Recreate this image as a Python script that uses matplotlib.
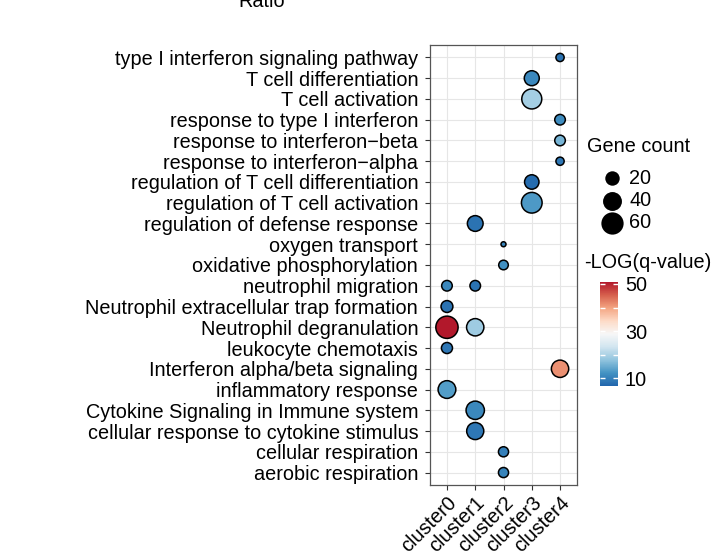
"""
Dot plot of enriched terms per cluster (gene count as size, -log q as colour).
Output: out.png
"""

import numpy as np
import matplotlib
matplotlib.use("Agg")
import matplotlib.pyplot as plt
from matplotlib.colors import LinearSegmentedColormap, Normalize
from matplotlib.transforms import ScaledTranslation

plt.rcParams["font.family"] = ["Liberation Sans", "DejaVu Sans"]

# ---------------------------------------------------------------------------
# Data
# ---------------------------------------------------------------------------

terms = [
    "type I interferon signaling pathway",
    "T cell differentiation",
    "T cell activation",
    "response to type I interferon",
    "response to interferon\u2212beta",
    "response to interferon\u2212alpha",
    "regulation of T cell differentiation",
    "regulation of T cell activation",
    "regulation of defense response",
    "oxygen transport",
    "oxidative phosphorylation",
    "neutrophil migration",
    "Neutrophil extracellular trap formation",
    "Neutrophil degranulation",
    "leukocyte chemotaxis",
    "Interferon alpha/beta signaling",
    "inflammatory response",
    "Cytokine Signaling in Immune system",
    "cellular response to cytokine stimulus",
    "cellular respiration",
    "aerobic respiration",
]
clusters = ["cluster0", "cluster1", "cluster2", "cluster3", "cluster4"]

dot_term = [
    "type I interferon signaling pathway",
    "T cell differentiation",
    "T cell activation",
    "response to type I interferon",
    "response to interferon\u2212beta",
    "response to interferon\u2212alpha",
    "regulation of T cell differentiation",
    "regulation of T cell activation",
    "regulation of defense response",
    "oxygen transport",
    "oxidative phosphorylation",
    "neutrophil migration",
    "neutrophil migration",
    "Neutrophil extracellular trap formation",
    "Neutrophil degranulation",
    "Neutrophil degranulation",
    "leukocyte chemotaxis",
    "Interferon alpha/beta signaling",
    "inflammatory response",
    "Cytokine Signaling in Immune system",
    "cellular response to cytokine stimulus",
    "cellular respiration",
    "aerobic respiration",
]
dot_cluster = [
    "cluster4", "cluster3", "cluster3", "cluster4", "cluster4", "cluster4",
    "cluster3", "cluster3", "cluster1", "cluster2", "cluster2",
    "cluster0", "cluster1", "cluster0", "cluster0", "cluster1", "cluster0",
    "cluster4", "cluster0", "cluster1", "cluster1", "cluster2", "cluster2",
]
dot_count = [5, 22, 46, 9, 9, 5, 20, 50, 25, 3, 7,
             9, 9, 12, 60, 32, 10, 32, 34, 37, 31, 8, 8]
dot_logq = [8.5, 11, 19.5, 11.5, 16, 9, 7.5, 13, 8.5, 10.5, 12,
            11, 8.5, 8.5, 50.8, 19, 9, 41.5, 13.5, 11, 9, 10, 10.5]

legend_counts = [20, 40, 60]
cbar_ticks = [10, 20, 30, 40, 50]
cbar_labels = ["10", "", "30", "", "50"]

# RColorBrewer RdBu (9 class), reversed
rdbu9 = ["#2166AC", "#4393C3", "#92C5DE", "#D1E5F0", "#F7F7F7",
         "#FDDBC7", "#F4A582", "#D6604D", "#B2182B"]
cmap = LinearSegmentedColormap.from_list("rdbu9", rdbu9)
norm = Normalize(vmin=6.8, vmax=50.8)

W, H = 724, 557
FS = 14.3


def count_to_area(c):
    """ggplot-like area scale: diameter in px -> marker area in pt^2."""
    c = np.asarray(c, dtype=float)
    d_px = 5.0 + 18.0 * np.sqrt(np.clip((c - 3) / 62.0, 0, None))
    return (d_px * 72 / 100) ** 2


# ---------------------------------------------------------------------------
# Figure
# ---------------------------------------------------------------------------

fig = plt.figure(figsize=(W / 100, H / 100), dpi=100)

def px_rect(x0, y0, x1, y1):
    return [x0 / W, 1 - y1 / H, (x1 - x0) / W, (y1 - y0) / H]

ax = fig.add_axes(px_rect(430, 45, 577, 485))

xs = [clusters.index(c) for c in dot_cluster]
ys = [terms.index(t) for t in dot_term]
sc = ax.scatter(xs, ys, s=count_to_area(dot_count), c=dot_logq, cmap=cmap,
                norm=norm, edgecolors="black", linewidths=1.1, zorder=3)

ax.set_xlim(-0.6, len(clusters) - 0.4)
ax.set_ylim(len(terms) - 0.4, -0.6)
ax.set_xticks(range(len(clusters)))
ax.set_xticklabels(clusters, rotation=45, ha="right", va="top",
                   rotation_mode="anchor", fontsize=FS)
# nudge rotated labels like ggplot's hjust/vjust on a 45 degree angle
shift = ScaledTranslation(14 / 100, 5 / 100, fig.dpi_scale_trans)
for lab in ax.get_xticklabels():
    lab.set_transform(lab.get_transform() + shift)
ax.set_yticks(range(len(terms)))
ax.set_yticklabels(terms, fontsize=FS)
ax.tick_params(axis="y", length=3.5, width=0.8, color="#333333",
               labelcolor="black", pad=5)
ax.tick_params(axis="x", length=3.5, width=0.8, color="#333333",
               labelcolor="black", pad=2)
ax.grid(True, color="#e6e6e6", linewidth=0.8)
ax.set_axisbelow(True)
for sp in ax.spines.values():
    sp.set_color("#555555")
    sp.set_linewidth(0.9)

fig.text(262 / W, 1 - 7 / H, "Ratio", ha="center", va="baseline", fontsize=FS)

# ── size legend ─────────────────────────────────────────────────────────────
lax = fig.add_axes([0, 0, 1, 1], facecolor="none")
lax.set_xlim(0, W)
lax.set_ylim(H, 0)
lax.axis("off")
lax.text(587, 147, "Gene count", ha="left", va="center", fontsize=FS)
for i, c in enumerate(legend_counts):
    yy = 178 + i * 22.5
    lax.scatter([612], [yy], s=count_to_area([c]), color="black", linewidths=0)
    lax.text(629, yy, str(c), ha="left", va="center", fontsize=FS)

# ── colour bar ──────────────────────────────────────────────────────────────
lax.text(584, 263, "-LOG(q-value)", ha="left", va="center", fontsize=FS)
cax = fig.add_axes(px_rect(600, 282, 618, 386))
cb = fig.colorbar(sc, cax=cax)
cb.outline.set_visible(False)
cb.set_ticks(cbar_ticks)
cb.set_ticklabels(cbar_labels)
cax.tick_params(axis="y", which="both", direction="in", left=True, right=True,
                color="white", length=3.5, width=1.0, labelsize=FS, pad=5)

fig.savefig("out.png", dpi=100)
